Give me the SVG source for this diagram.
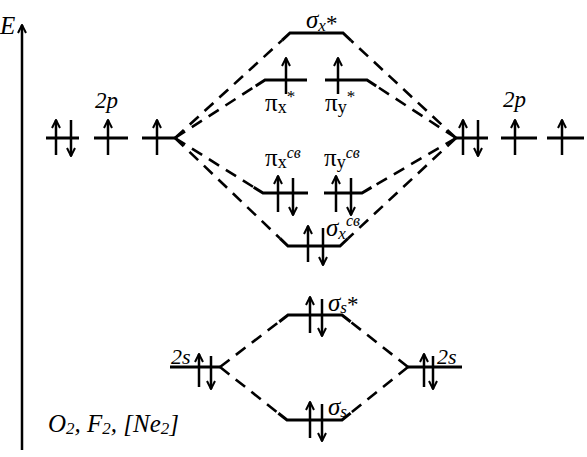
<svg xmlns="http://www.w3.org/2000/svg" width="587" height="457" viewBox="0 0 587 457">
<defs>
<marker id="ah" viewBox="0 0 10 10" refX="9" refY="5" markerWidth="10" markerHeight="10" markerUnits="userSpaceOnUse" orient="auto">
<path d="M1,1 L9,5 L1,9" fill="none" stroke="#000" stroke-width="2"/>
</marker>
</defs>
<style>
.lv{fill:none;stroke:#000;stroke-width:3;stroke-linejoin:miter}
.e{stroke:#000;stroke-width:2.5;marker-end:url(#ah)}
.cn{fill:none;stroke:#000;stroke-width:2.6;stroke-dasharray:12 8}
.ax{stroke:#000;stroke-width:2.5;marker-end:url(#ah)}
text,tspan{font-family:"Liberation Serif","Times New Roman",serif;fill:#000}
.it{font-style:italic}
</style>
<rect width="587" height="457" fill="#fff"/>
<g id="axis">
<line class="ax" x1="22" y1="450" x2="22" y2="25"/>
<text class="it" x="0" y="34" font-size="25">E</text>
</g>
<g id="connectors">
<line class="cn" x1="175" y1="138" x2="282" y2="40.4"/>
<line class="cn" x1="175" y1="138" x2="255.7" y2="86"/>
<line class="cn" x1="175" y1="138" x2="253.7" y2="187.2"/>
<line class="cn" x1="175" y1="138" x2="280" y2="238.4"/>
<line class="cn" x1="456" y1="138" x2="351" y2="40.5"/>
<line class="cn" x1="456" y1="138" x2="376.2" y2="86"/>
<line class="cn" x1="456" y1="138" x2="371.5" y2="187.4"/>
<line class="cn" x1="456" y1="138" x2="348" y2="238.5"/>
<line class="cn" x1="220" y1="367" x2="279.3" y2="321.7"/>
<line class="cn" x1="220" y1="367" x2="278.4" y2="413.2"/>
<line class="cn" x1="408" y1="367" x2="350.6" y2="321.8"/>
<line class="cn" x1="408" y1="367" x2="350.6" y2="413.1"/>
</g>
<g id="ao2p-left">
<line class="lv" x1="46" y1="138" x2="79" y2="138"/>
<line class="e" x1="56" y1="155" x2="56" y2="120"/>
<line class="e" x1="71" y1="120" x2="71" y2="156"/>
<line class="lv" x1="94" y1="138" x2="128" y2="138"/>
<line class="e" x1="108" y1="155" x2="108" y2="120"/>
<line class="lv" x1="142" y1="138" x2="175" y2="138"/>
<line class="e" x1="157" y1="155" x2="157" y2="120"/>
<text class="it" x="95" y="108" font-size="23">2p</text>
</g>
<g id="ao2p-right">
<line class="lv" x1="456" y1="138" x2="488" y2="138"/>
<line class="e" x1="463" y1="155" x2="463" y2="120"/>
<line class="e" x1="478" y1="120" x2="478" y2="156"/>
<line class="lv" x1="501" y1="138" x2="537" y2="138"/>
<line class="e" x1="515" y1="155" x2="515" y2="120"/>
<line class="lv" x1="547" y1="138" x2="584" y2="138"/>
<line class="e" x1="562" y1="155" x2="562" y2="120"/>
<text class="it" x="503" y="107" font-size="23">2p</text>
</g>
<g id="sigma-x-star">
<polyline class="lv" points="282,40.4 290,33 343,33 351,40.5"/>
<text x="306" y="28" font-size="25"><tspan class="it">σ</tspan><tspan class="it" font-size="17" dy="3">x</tspan><tspan font-size="23" dy="0">*</tspan></text>
</g>
<g id="pi-x-star">
<polyline class="lv" points="255.7,86 265,80 307,80"/>
<line class="e" x1="286" y1="94" x2="286" y2="58"/>
<text x="265" y="111" font-size="25">π<tspan font-size="18" dy="2">x</tspan><tspan font-size="17" dy="-11">*</tspan></text>
</g>
<g id="pi-y-star">
<polyline class="lv" points="325,80 367,80 376.2,86"/>
<line class="e" x1="338" y1="94" x2="338" y2="58"/>
<text x="325" y="111" font-size="25">π<tspan font-size="18" dy="2">y</tspan><tspan font-size="17" dy="-11">*</tspan></text>
</g>
<g id="pi-x-b">
<polyline class="lv" points="253.7,187.2 263,193 308,193"/>
<line class="e" x1="278" y1="212" x2="278" y2="176"/>
<line class="e" x1="293" y1="178" x2="293" y2="215"/>
<text x="265" y="166" font-size="25">π<tspan font-size="18" dy="2">x</tspan><tspan class="it" font-size="16" dy="-10">св</tspan></text>
</g>
<g id="pi-y-b">
<polyline class="lv" points="324,193 362,193 371.5,187.4"/>
<line class="e" x1="336" y1="212" x2="336" y2="176"/>
<line class="e" x1="351" y1="178" x2="351" y2="215"/>
<text x="324" y="166" font-size="25">π<tspan font-size="18" dy="2">y</tspan><tspan class="it" font-size="16" dy="-10">св</tspan></text>
</g>
<g id="sigma-x-b">
<polyline class="lv" points="280,238.4 288,246 340,246 348,238.5"/>
<line class="e" x1="308" y1="262" x2="308" y2="226"/>
<line class="e" x1="323" y1="228" x2="323" y2="265"/>
<text x="326" y="236" font-size="25"><tspan class="it">σ</tspan><tspan class="it" font-size="17" dy="3">x</tspan><tspan class="it" font-size="16" dy="-13">св</tspan></text>
</g>
<g id="sigma-s-star">
<polyline class="lv" points="279.3,321.7 288,315 342,315 350.6,321.8"/>
<line class="e" x1="310" y1="333" x2="310" y2="297"/>
<line class="e" x1="322" y1="299" x2="322" y2="336"/>
<text x="328" y="311" font-size="25"><tspan class="it">σ</tspan><tspan class="it" font-size="17" dy="2">s</tspan><tspan font-size="23" dy="-1">*</tspan></text>
</g>
<g id="sigma-s">
<polyline class="lv" points="278.4,413.2 287,420 342,420 350.6,413.1"/>
<line class="e" x1="310" y1="438" x2="310" y2="402"/>
<line class="e" x1="322" y1="404" x2="322" y2="441"/>
<text x="328" y="415" font-size="25"><tspan class="it">σ</tspan><tspan class="it" font-size="17" dy="2">s</tspan></text>
</g>
<g id="ao2s-left">
<line class="lv" x1="170" y1="367" x2="220" y2="367"/>
<line class="e" x1="199" y1="387" x2="199" y2="354"/>
<line class="e" x1="211" y1="356" x2="211" y2="389"/>
<text class="it" x="171" y="364" font-size="22">2s</text>
</g>
<g id="ao2s-right">
<line class="lv" x1="408" y1="367" x2="462" y2="367"/>
<line class="e" x1="424" y1="387" x2="424" y2="354"/>
<line class="e" x1="433" y1="356" x2="433" y2="389"/>
<text class="it" x="437" y="364" font-size="22">2s</text>
</g>
<g id="caption">
<text class="it" x="48" y="432" font-size="25">O<tspan font-size="17" dy="2">2</tspan><tspan dy="-2">, F</tspan><tspan font-size="17" dy="2">2</tspan><tspan dy="-2">, [Ne</tspan><tspan font-size="17" dy="2">2</tspan><tspan dy="-2">]</tspan></text>
</g>
</svg>
